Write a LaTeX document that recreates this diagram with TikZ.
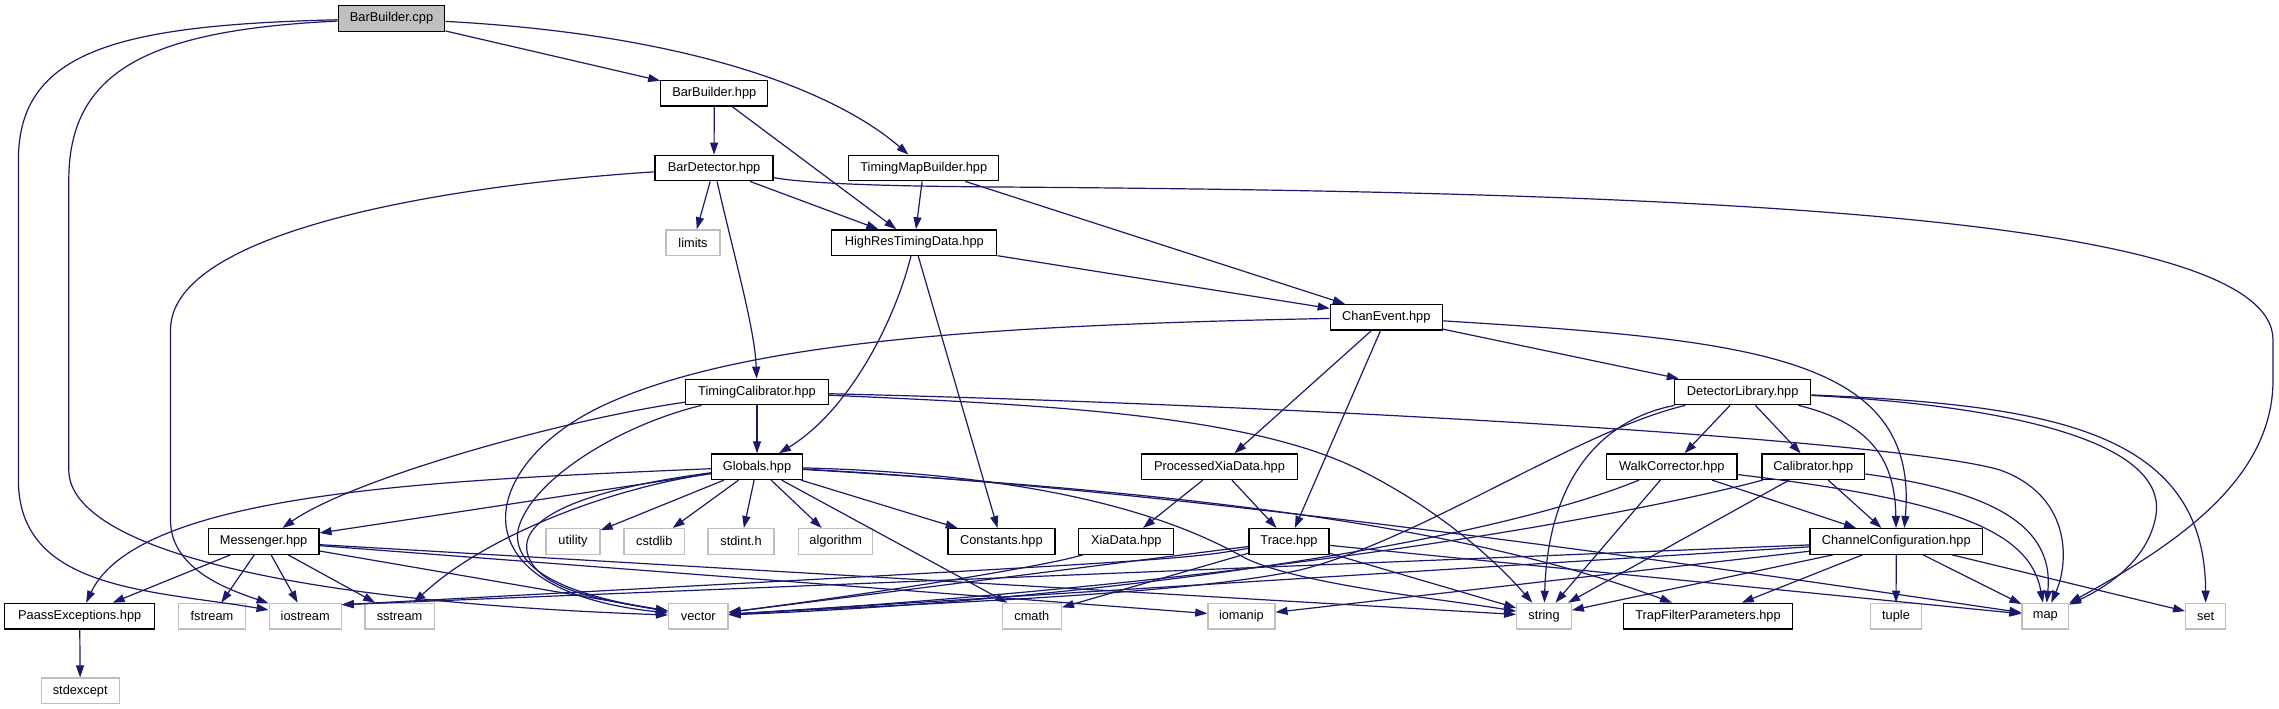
\documentclass[tikz,border=0pt]{standalone}
\usepackage{fontspec}
\setmainfont{Liberation Sans}
\usetikzlibrary{arrows.meta,calc}
\definecolor{edgeblue}{HTML}{191970}
\definecolor{sysgray}{HTML}{BFBFBF}
\begin{document}
\begin{tikzpicture}[x=1pt,y=-1pt,
  box/.style={draw=black, fill=white, line width=1.3pt, minimum height=25.5pt, inner sep=0pt, font=\fontsize{12.8}{14}\selectfont},
  sys/.style={box, draw=sysgray},
  root/.style={box, fill=sysgray},
  edge/.style={draw=edgeblue, line width=1.2pt, -{Triangle[length=12pt,width=8pt]}}]
\useasboundingbox (0,0) rectangle (2279,709);
\fill[white] (0,0) rectangle (2279,709);
% nodes
\node[root, minimum width=106.6pt] (cpp) at (391.5,18.5) {BarBuilder.cpp};
\node[box, minimum width=107pt] (bbh) at (714.3,93.3) {BarBuilder.hpp};
\node[box, minimum width=118pt] (bdet) at (714,168) {BarDetector.hpp};
\node[box, minimum width=150pt] (tmb) at (923.8,168) {TimingMapBuilder.hpp};
\node[sys, minimum width=54pt] (limits) at (693,242.6) {limits};
\node[box, minimum width=165pt] (hrtd) at (914.3,242.6) {HighResTimingData.hpp};
\node[box, minimum width=112pt] (chan) at (1386.3,317.3) {ChanEvent.hpp};
\node[box, minimum width=143pt] (tcal) at (757,392) {TimingCalibrator.hpp};
\node[box, minimum width=136pt] (dlib) at (1742.7,392) {DetectorLibrary.hpp};
\node[box, minimum width=91pt] (glob) at (757,466.7) {Globals.hpp};
\node[box, minimum width=156pt] (pxia) at (1219.5,466.7) {ProcessedXiaData.hpp};
\node[box, minimum width=130.5pt] (walk) at (1671.8,466.7) {WalkCorrector.hpp};
\node[box, minimum width=102.5pt] (calib) at (1813.3,466.7) {Calibrator.hpp};
\node[box, minimum width=110.6pt] (mess) at (263.6,541.4) {Messenger.hpp};
\node[sys, minimum width=54pt] (utility) at (573,541.4) {utility};
\node[sys, minimum width=60.5pt] (cstdlib) at (654.3,541.4) {cstdlib};
\node[sys, minimum width=66pt] (stdint) at (741,541.4) {stdint.h};
\node[sys, minimum width=74pt] (algo) at (835.8,541.4) {algorithm};
\node[box, minimum width=107pt] (const) at (1001.4,541.4) {Constants.hpp};
\node[box, minimum width=95pt] (xia) at (1126.3,541.4) {XiaData.hpp};
\node[box, minimum width=80pt] (trace) at (1289,541.4) {Trace.hpp};
\node[box, minimum width=172.5pt] (chcfg) at (1896.3,541.4) {ChannelConfiguration.hpp};
\node[box, minimum width=150pt] (paass) at (79.7,616.1) {PaassExceptions.hpp};
\node[sys, minimum width=67pt] (fstream) at (212,616.1) {fstream};
\node[sys, minimum width=72pt] (iostream) at (305.2,616.1) {iostream};
\node[sys, minimum width=69.5pt] (sstream) at (399.6,616.1) {sstream};
\node[sys, minimum width=59.5pt] (vector) at (698.3,616.1) {vector};
\node[sys, minimum width=59pt] (cmath) at (1031.8,616.1) {cmath};
\node[sys, minimum width=67pt] (iomanip) at (1241.4,616.1) {iomanip};
\node[sys, minimum width=54.5pt] (string) at (1544,616.1) {string};
\node[box, minimum width=169.5pt] (trap) at (1708,616.1) {TrapFilterParameters.hpp};
\node[sys, minimum width=50.5pt] (tuple) at (1896,616.1) {tuple};
\node[sys, minimum width=46.6pt] (map) at (2045.3,616.1) {map};
\node[sys, minimum width=40pt] (set) at (2205.7,616.1) {set};
\node[sys, minimum width=78pt] (stdexcept) at (80.2,690.8) {stdexcept};
\coordinate (ioNE) at ($(iostream.north east)+(0,2)$);
\coordinate (cfgN) at ($(chcfg.north)+(8,0)$);
% edges: BarBuilder.cpp
\draw[edge] (cpp) -- (bbh);
\draw[edge] (cpp) .. controls (700,35) and (840,95) .. (tmb);
\draw[edge] (cpp) .. controls (120,25) and (18.4,50) .. (18.4,160) -- (18.4,480) .. controls (18.4,590) and (150,590) .. (iostream);
\draw[edge] (cpp) .. controls (150,30) and (68.8,70) .. (68.8,180) -- (68.8,470) .. controls (68.8,540) and (250,600) .. (vector);
% BarBuilder.hpp
\draw[edge] (bbh) -- (bdet);
\draw[edge] (bbh) -- (hrtd);
% BarDetector.hpp
\draw[edge] (bdet) -- (limits);
\draw[edge] (bdet) -- (hrtd);
\draw[edge] (bdet) .. controls (735,260) and (755,330) .. (tcal);
\draw[edge] (bdet) .. controls (450,185) and (170.5,230) .. (170.5,330) -- (170.5,520) .. controls (170.5,570) and (230,590) .. (iostream);
\draw[edge] (bdet) .. controls (800,182) and (850,186) .. (1000,187) .. controls (1700,192) and (2273,215) .. (2273,340) -- (2273,380) .. controls (2273,480) and (2175,545) .. (map);
% TimingMapBuilder.hpp
\draw[edge] (tmb) -- (hrtd);
\draw[edge] (tmb) -- (chan);
% HighResTimingData.hpp
\draw[edge] (hrtd) -- (chan);
\draw[edge] (hrtd) .. controls (895,320) and (850,410) .. (glob);
\draw[edge] (hrtd) -- (const);
% ChanEvent.hpp
\draw[edge] (chan) .. controls (1000,325) and (740,340) .. (600,407) .. controls (480,465) and (450,590) .. (vector);
\draw[edge] (chan) -- (pxia);
\draw[edge] (chan) -- (trace);
\draw[edge] (chan) -- (dlib);
\draw[edge] (chan) .. controls (1750,340) and (1920,355) .. (cfgN);
% TimingCalibrator.hpp
\draw[edge] (tcal) -- (glob);
\draw[edge] (tcal) .. controls (560,420) and (350,480) .. (mess);
\draw[edge] (tcal) .. controls (620,425) and (530,480) .. (518,530) .. controls (510,580) and (600,600) .. (vector);
\draw[edge] (tcal) .. controls (1050,405) and (1250,415) .. (1360,470) .. controls (1440,510) and (1495,560) .. (string);
\draw[edge] (tcal) .. controls (1300,405) and (1900,440) .. (2000,470) .. controls (2070,495) and (2070,560) .. (map);
% Globals.hpp
\draw[edge] (glob) .. controls (450,480) and (140,490) .. (paass);
\draw[edge] (glob) -- (mess);
\draw[edge] (glob) .. controls (600,490) and (480,540) .. (sstream);
\draw[edge] (glob) .. controls (580,490) and (510,520) .. (530,560) .. controls (545,590) and (600,600) .. (vector);
\draw[edge] (glob) -- (utility);
\draw[edge] (glob) -- (cstdlib);
\draw[edge] (glob) -- (stdint);
\draw[edge] (glob) -- (algo);
\draw[edge] (glob) -- (const);
\draw[edge] (glob) -- (cmath);
\draw[edge] (glob) .. controls (1080,475) and (1195,530) .. (1245,558) .. controls (1300,585) and (1450,600) .. (string);
\draw[edge] (glob) .. controls (1150,490) and (1450,520) .. (trap);
\draw[edge] (glob) .. controls (1200,490) and (1800,580) .. (map);
% Messenger.hpp
\draw[edge] (mess) -- (paass);
\draw[edge] (mess) -- (fstream);
\draw[edge] (mess) -- (iostream);
\draw[edge] (mess) -- (sstream);
\draw[edge] (mess) -- (vector);
\draw[edge] (mess) -- (string);
\draw[edge] (mess) -- (iomanip);
% PaassExceptions.hpp
\draw[edge] (paass) -- (stdexcept);
% ProcessedXiaData.hpp
\draw[edge] (pxia) -- (xia);
\draw[edge] (pxia) -- (trace);
% XiaData.hpp
\draw[edge] (xia) .. controls (1050,565) and (900,590) .. (vector);
% Trace.hpp
\draw[edge] (trace) .. controls (1180,560) .. (ioNE);
\draw[edge] (trace) -- (vector);
\draw[edge] (trace) -- (cmath);
\draw[edge] (trace) -- (string);
\draw[edge] (trace) -- (map);
% DetectorLibrary.hpp
\draw[edge] (dlib) -- (walk);
\draw[edge] (dlib) -- (calib);
\draw[edge] (dlib) .. controls (1880,425) and (1895,470) .. (chcfg);
\draw[edge] (dlib) .. controls (1600,420) and (1548,480) .. (string);
\draw[edge] (dlib) .. controls (1580,430) and (1420,540) .. (1300,570) .. controls (1180,596) and (900,604) .. (vector);
\draw[edge] (dlib) .. controls (2000,405) and (2175,440) .. (2155,520) .. controls (2145,565) and (2100,590) .. (map);
\draw[edge] (dlib) .. controls (2050,405) and (2205,430) .. (set);
% WalkCorrector.hpp
\draw[edge] (walk) -- (chcfg);
\draw[edge] (walk) .. controls (1480,545) and (1100,600) .. (vector);
\draw[edge] (walk) -- (string);
\draw[edge] (walk) .. controls (1950,500) and (2030,530) .. (map);
% Calibrator.hpp
\draw[edge] (calib) -- (chcfg);
\draw[edge] (calib) .. controls (1650,510) and (1300,580) .. (vector);
\draw[edge] (calib) -- (string);
\draw[edge] (calib) .. controls (1980,490) and (2055,520) .. (map);
% ChannelConfiguration.hpp
\draw[edge] (chcfg) -- (ioNE);
\draw[edge] (chcfg) -- (vector);
\draw[edge] (chcfg) -- (iomanip);
\draw[edge] (chcfg) -- (string);
\draw[edge] (chcfg) -- (trap);
\draw[edge] (chcfg) -- (tuple);
\draw[edge] (chcfg) -- (map);
\draw[edge] (chcfg) -- (set);
\end{tikzpicture}
\end{document}
